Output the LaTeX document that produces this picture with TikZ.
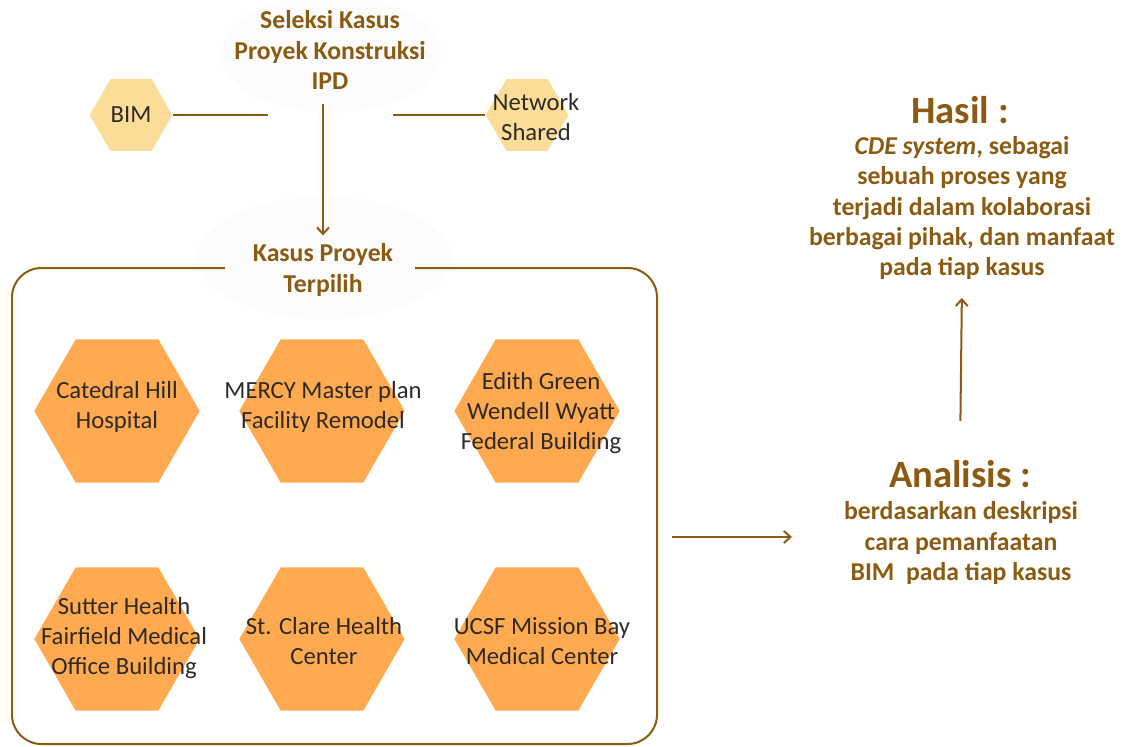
\documentclass[tikz,border=0pt]{standalone}
\usepackage{fontspec}
\setmainfont{Carlito}
\usepackage{tikz}
\usetikzlibrary{ shapes.geometric, % For the hexagons
                 arrows.meta,
                 positioning, % For easy node-relative placements
               }
\definecolor{brownline}{HTML}{8C5B12}
\definecolor{lighthex}{HTML}{FBDD98}
\definecolor{casehex}{HTML}{FFA950}
\definecolor{casetxt}{HTML}{2E2A26}
\definecolor{blobgrey}{HTML}{FCFCFC}
\tikzstyle{flow} = [-{Straight Barb[length=5pt,width=9pt]}, draw=brownline, line width=1.5pt]
\tikzstyle{link} = [draw=brownline, line width=1.5pt]
\tikzstyle{frame} = [draw=brownline, line width=1.5pt, rounded corners=22pt]
\tikzstyle{blob} = [ellipse, fill=blobgrey, draw=none]
\tikzstyle{smallhex} = [regular polygon, regular polygon sides=6, fill=lighthex, inner sep=0pt, minimum size=62pt]
\tikzstyle{casehexa} = [regular polygon, regular polygon sides=6, fill=casehex, inner sep=0pt, minimum size=124pt]
\tikzstyle{hextext} = [text=casetxt, align=center, font=\fontsize{18.5}{22.5}\selectfont]
\tikzstyle{headtext} = [text=brownline, align=center, font=\bfseries\fontsize{19.3}{22.8}\selectfont]
\tikzstyle{titletext} = [text=brownline, align=center, font=\bfseries\fontsize{29}{32}\selectfont]

\begin{document}
\begin{tikzpicture}[x=0.75pt, y=-0.75pt]
  \useasboundingbox (0,0) rectangle (1123,746);

  % faint blobs behind the two headings
  \node (seleksiblob) [blob, minimum width=165pt, minimum height=88pt] at (331,54) {};
  \node (kasusblob) [blob, minimum width=190pt, minimum height=92pt] at (324,258) {};

  \node (seleksi) [headtext, inner sep=4pt] at (330,50) {Seleksi Kasus\\Proyek Konstruksi\\IPD};
  \node (kasus) [headtext, inner sep=4pt] at (323,270) {Kasus Proyek\\Terpilih};

  \node (bim) [smallhex] at (131,115) {};
  \node (bimtxt) [hextext] at (bim) {BIM};
  \node (net) [smallhex] at (527,115) {};
  \node (nettxt) [hextext] at (536,117) {Network\\Shared};

  \coordinate (bimjoin) at (268,115);
  \coordinate (netjoin) at (393,115);
  \draw [link] (bim.east) -- (bimjoin);
  \draw [link] (netjoin) -- (net.west);
  \draw [flow, shorten <=7pt, shorten >=2pt] (kasus.north |- seleksi.south) -- (kasus.north);

  % frame round the chosen cases
  \draw [frame] (225,268) -| (12,744) -| (657,268) -- (415,268);

  \node (h1) [casehexa] at (117,411) {};
  \node (h2) [casehexa] at (322,411) {};
  \node (h3) [casehexa] at (537,411) {};
  \node (h4) [casehexa] at (117,639) {};
  \node (h5) [casehexa] at (322,639) {};
  \node (h6) [casehexa] at (537,639) {};
  \node (t1) [hextext] at (117,407) {Catedral Hill\\Hospital};
  \node (t2) [hextext] at (323,407) {MERCY Master plan\\Facility Remodel};
  \node (t3) [hextext] at (541,413) {Edith Green\\Wendell Wyatt\\Federal Building};
  \node (t4) [hextext] at (124,638) {Sutter Health\\Fairfield Medical\\Office Building};
  \node (t5) [hextext] at (324,641) {St. Clare Health\\Center};
  \node (t6) [hextext] at (542,641) {UCSF Mission Bay\\Medical Center};

  \node (anatitle) [titletext] at (960,474) {Analisis :};
  \node (anabody) [headtext] at (961,543) {berdasarkan deskripsi\\cara pemanfaatan\\BIM\ \ pada tiap kasus};
  \node (hasiltitle) [titletext] at (960,110) {Hasil :};
  \node (hasilbody) [headtext] at (962,208) {\textit{CDE system}, sebagai\\sebuah proses yang\\terjadi dalam kolaborasi\\berbagai pihak, dan manfaat\\pada tiap kasus};

  \coordinate (boxout) at (672,537);
  \coordinate (anain) at (792,537);
  \draw [flow] (boxout) -- (anain);
  \draw [flow, shorten <=26pt, shorten >=10pt] (anatitle.north) -- (hasilbody.south);
\end{tikzpicture}
\end{document}
